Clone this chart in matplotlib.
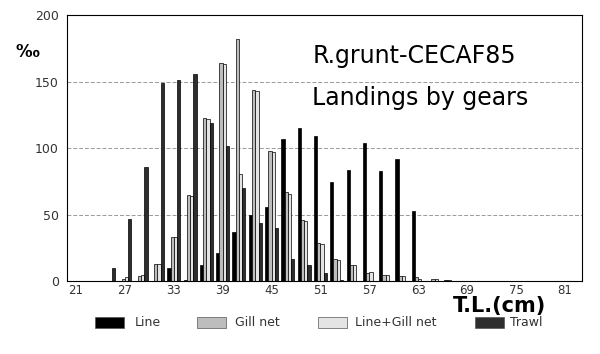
import numpy as np
import matplotlib
matplotlib.use("Agg")
import matplotlib.pyplot as plt
from matplotlib.patches import Rectangle

# length classes (cm, 2 cm groups) and landings per gear (per mille)
length_cm = [25, 27, 29, 31, 33, 35, 37, 39, 41, 43, 45, 47,
             49, 51, 53, 55, 57, 59, 61, 63, 65, 67, 69, 71]
line     = [0, 0, 0, 0, 10, 1, 12, 21, 37, 50, 56, 107,
            115, 109, 75, 84, 104, 83, 92, 53, 0, 1, 0, 0.5]
gill_net = [0, 2, 4, 13, 33, 65, 123, 164, 182, 144, 98, 67,
            46, 29, 17, 12, 6, 5, 4, 3, 2, 1, 0, 0]
line_gill = [0, 3, 5, 13, 33, 64, 122, 163, 81, 143, 97, 66,
             45, 28, 16, 12, 7, 5, 4, 2, 2, 0, 0, 0]
trawl    = [10, 47, 86, 149, 151, 156, 119, 102, 70, 44, 40, 17,
            12, 6, 1, 0, 0, 0, 0, 0, 0, 0, 0, 0]
x_ticks = list(range(21, 82, 6))

series = [("Line", line, "black"),
          ("Gill net", gill_net, "#bdbdbd"),
          ("Line+Gill net", line_gill, "#e4e4e4"),
          ("Trawl", trawl, "#2e2e2e")]

fig = plt.figure(figsize=(6, 3.54), dpi=100)
ax = fig.add_axes([0.1117, 0.205, 0.8583, 0.7526])

x = np.array(length_cm, dtype=float)
w = 0.4
for i, (name, vals, col) in enumerate(series):
  ax.bar(x + (i - 1.5) * w, vals, width=w, color=col,
         edgecolor="black", linewidth=0.5)

ax.set_xlim(19.9, 83.1)
ax.set_ylim(0, 200)
ax.set_yticks([0, 50, 100, 150, 200])
ax.set_xticks(x_ticks)
ax.tick_params(length=0, labelsize=9, labelcolor="#333333")
ax.tick_params(axis="y", pad=6)
ax.tick_params(axis="x", pad=1.5, labelsize=8.5)
for sp in ax.spines.values():
  sp.set_linewidth(0.8)
for yv in (50, 100, 150):
  ax.axhline(yv, color="#999999", lw=0.7, ls=(0, (4, 2)), zorder=0)

ax.text(0.476, 0.82, "R.grunt-CECAF85", transform=ax.transAxes,
        fontsize=17, va="baseline")
ax.text(0.476, 0.662, "Landings by gears", transform=ax.transAxes,
        fontsize=17, va="baseline")

fig.text(0.025, 0.84, "‰", fontsize=12, fontweight="bold")
fig.text(0.755, (354 - 312) / 354, "T.L.(cm)", fontsize=15,
         fontweight="bold", va="baseline")

# legend drawn by hand to match the spacing of the original
leg_box_x = [95, 197, 318, 475]
leg_text_x = [135, 235, 355, 510]
for (name, vals, col), bx, tx in zip(series, leg_box_x, leg_text_x):
  fig.add_artist(Rectangle((bx / 600, (354 - 328) / 354), 29 / 600, 11 / 354,
                           transform=fig.transFigure, facecolor=col,
                           edgecolor="#555555", linewidth=0.5))
  fig.text(tx / 600, (354 - 323) / 354, name, fontsize=9, va="center",
           color="#333333")

fig.savefig("out.png", dpi=100, facecolor="white")
